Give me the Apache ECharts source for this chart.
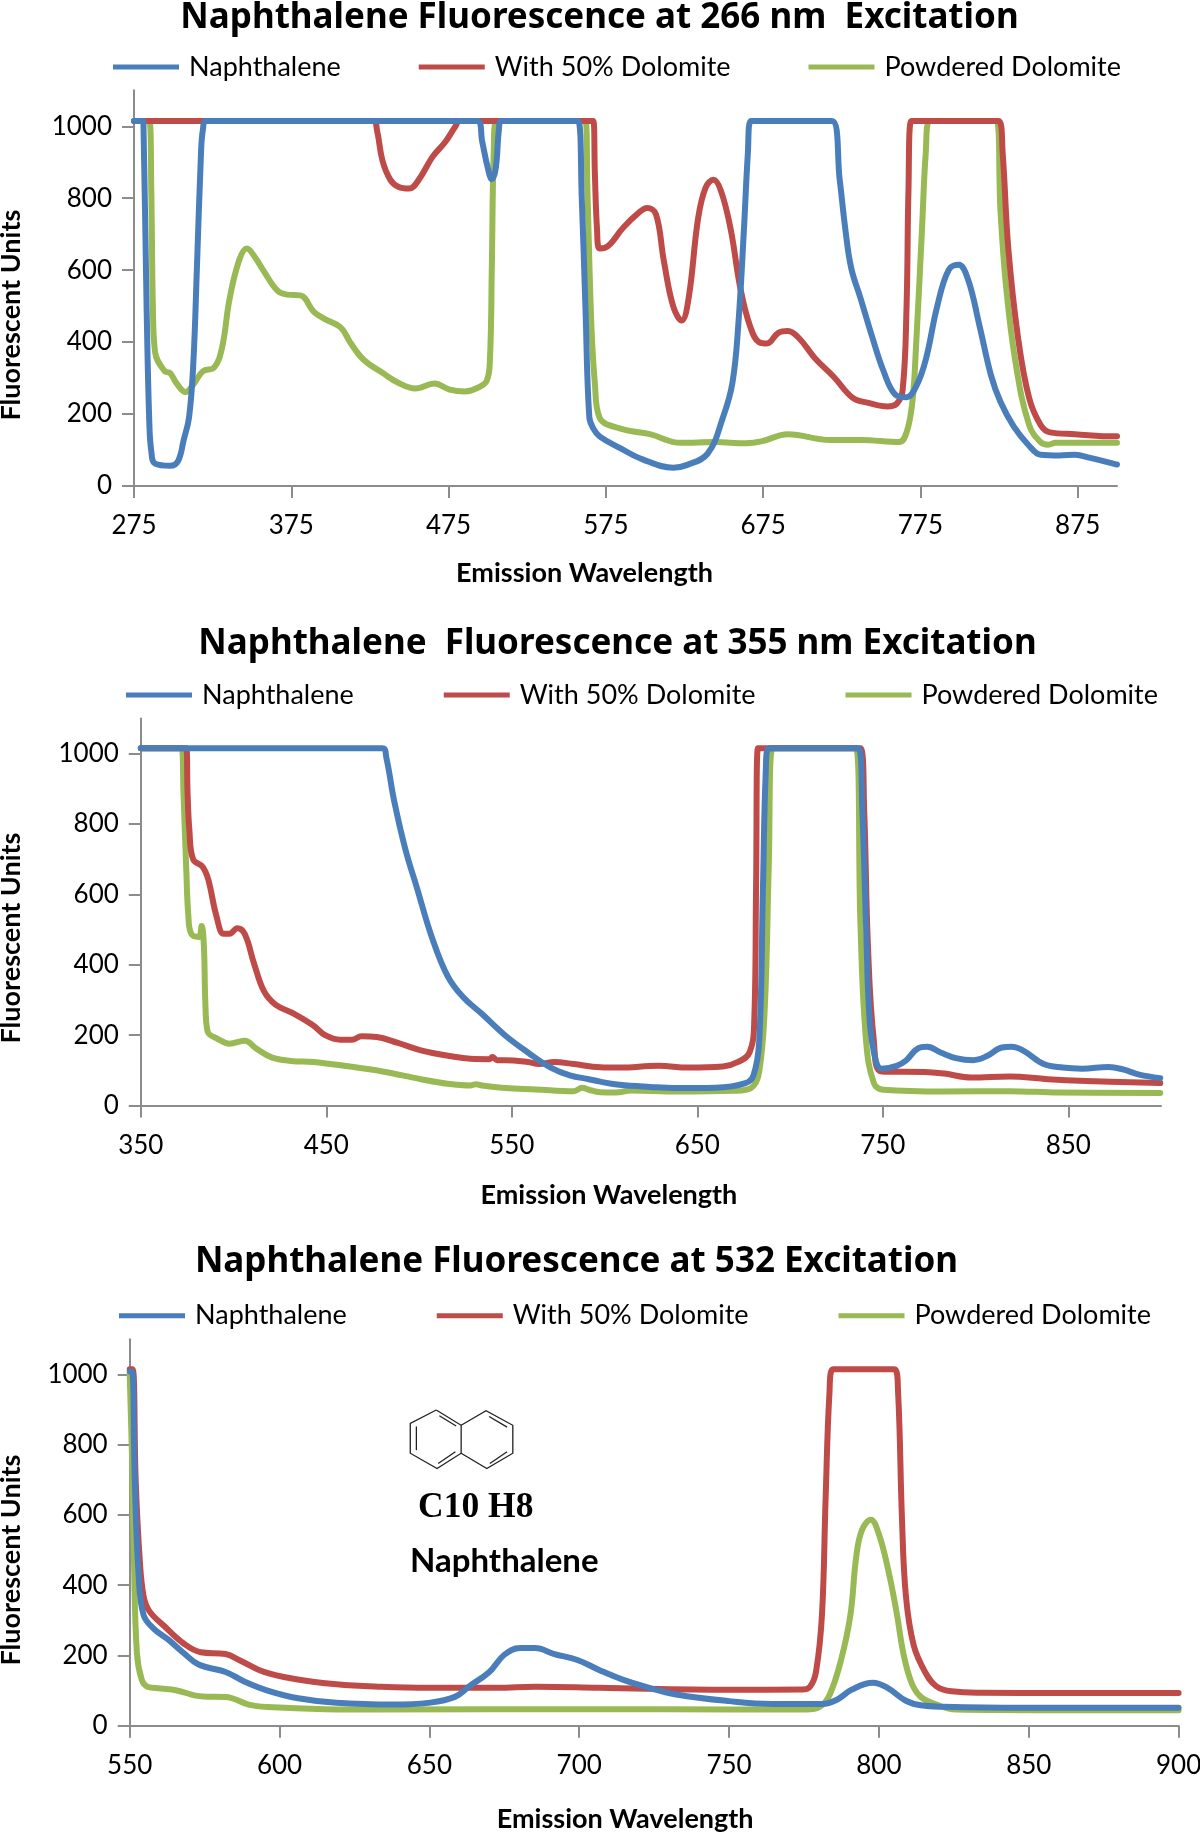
<!DOCTYPE html>
<html><head><meta charset="utf-8">
<style>html,body{margin:0;padding:0;background:#fff}#c{width:1200px;height:1832px}</style>
<script src="https://cdn.jsdelivr.net/npm/echarts@6/dist/echarts.min.js"></script>
</head><body><div id="c"></div>
<script>
const seriesNames = ['Naphthalene', 'With 50% Dolomite', 'Powdered Dolomite'];
const titles = ['Naphthalene Fluorescence at 266 nm  Excitation', 'Naphthalene  Fluorescence at 355 nm Excitation', 'Naphthalene Fluorescence at 532 Excitation'];
const yTicks = [0, 200, 400, 600, 800, 1000];
const xTicks266 = [275, 375, 475, 575, 675, 775, 875];
const xTicks355 = [350, 450, 550, 650, 750, 850];
const xTicks532 = [550, 600, 650, 700, 750, 800, 850, 900];

const naphthalene266 = [[275,1015],[280.4,1015],[281,1010],[283,500],[284.7,181],[286,96],[288.4,62],[298,56],[303,69],[306.6,128],[310,191],[312.7,340],[315,606],[317.6,925],[318.8,990],[321,1015],[493.5,1015],[496.4,957],[500,883],[502.5,853],[505,883],[507,990],[508.6,1015],[557.2,1015],[559.7,798],[562,500],[564.5,191],[567,160],[571,138],[583.8,106],[598.4,74],[617.8,51],[626.3,58],[639.7,90],[649.5,191],[655.5,287],[659.2,447],[662.8,713],[665.3,925],[667.2,1015],[718.8,1015],[723.7,851],[727.3,713],[731,606],[737,521],[744.3,415],[751.6,319],[758.9,255],[766.2,247],[772.3,277],[778.4,351],[785.7,500],[793,601],[799.3,615],[805.3,574],[812.5,447],[819.8,309],[825.9,234],[834.4,165],[844.1,112],[851.4,87],[863.6,85],[873.3,87],[883,78],[898.8,61],[900,60]];
const dolomite50_266 = [[275,1015],[427,1015],[429.5,989],[433,904],[438,851],[443,832],[450,827],[456,851],[464.8,915],[473,957],[479.4,1000],[482,1015],[567,1015],[568,872],[569.4,713],[571,660],[574.5,662],[586,718],[594.7,755],[601.3,773],[606.9,755],[611.8,628],[617.8,500],[623.2,460],[627.6,521],[633.7,745],[638.5,830],[643.4,851],[648.3,819],[654.4,713],[660.4,553],[666.5,447],[672.6,399],[677.4,396],[684.7,426],[690.8,431],[698,410],[707.8,356],[720,303],[732,245],[741.9,231],[754,221],[760,229],[763.7,266],[766.2,500],[767.4,819],[769.2,1015],[824.8,1015],[827.3,926],[830.9,660],[837,415],[844.1,245],[851.4,170],[857.5,149],[873.3,144],[898.8,138],[900,138]];
const powdered266 = [[275,1015],[284.7,1015],[286,819],[287,500],[288.4,372],[294.5,319],[298,314],[301.8,287],[307.8,261],[312.7,282],[318.8,319],[326,330],[330.9,383],[335.8,521],[341.9,628],[346.8,660],[351.6,638],[357.7,596],[366.2,543],[372.3,532],[380.8,530],[389.4,484],[396.7,463],[406.4,441],[412.5,399],[421,351],[433.2,314],[443,287],[454,271],[466,285],[475.7,268],[485.5,263],[494,274],[499.3,293],[501.3,351],[502.5,606],[503.7,926],[505.4,1015],[562,1015],[563.3,819],[565.8,447],[568,287],[571,190],[583.8,160],[603,144],[622.6,120],[644.6,122],[664,119],[673.8,124],[690.8,144],[717.6,128],[737,128],[761.4,122],[766.2,149],[769.9,234],[772.3,394],[776,713],[778.4,926],[780.9,1015],[823.4,1015],[825.9,766],[829.5,553],[835.6,340],[844.1,170],[851.4,122],[856.3,115],[861.1,120],[898.8,120],[900,120]];

const naphthalene355 = [[350,1015],[480.3,1015],[482.4,988],[486.5,868],[492.7,727],[498.9,618],[507,477],[515.4,368],[523.6,309],[534,260],[546.3,200],[558.7,151],[571,108],[581.3,86],[591.6,75],[597.7,68],[608,59],[624.7,53],[639,50],[659.7,51],[676,64],[680.3,86],[683.4,184],[685.4,618],[686.9,945],[688.5,1015],[736.9,1015],[739,836],[741,510],[743,238],[746.2,129],[749.3,105],[757.5,113],[762.7,129],[768.8,162],[774,167],[781.2,151],[789.4,135],[798.7,129],[805.9,140],[814.2,165],[819.3,167],[825.5,157],[836.8,118],[847,108],[857.4,105],[871.8,110],[880,102],[888.3,88],[899.6,78]];
const dolomite50_355 = [[350,1015],[374.5,1015],[375.2,890],[376.2,782],[378.2,700],[383.4,678],[386.5,640],[390.6,542],[394.7,488],[397.8,488],[402,504],[406,488],[411.2,401],[416.4,325],[422.6,287],[432.9,260],[443.2,227],[449.4,200],[457.6,187],[463.8,187],[469,197],[477.2,195],[488.6,178],[501,157],[517.4,140],[527.7,133],[538,132],[539.5,138],[542.2,129],[546.3,129],[558.7,124],[564.9,118],[573,124],[583.4,118],[597.7,109],[608,108],[629,113],[645.3,108],[663.8,111],[672,124],[678.2,151],[680.7,238],[681.7,618],[682.7,1015],[738,1015],[740,836],[742,455],[745.2,184],[749.3,97],[775,95],[783.3,91],[797.7,80],[818.3,83],[838.9,75],[859.5,70],[899.6,64]];
const powdered355 = [[350,1015],[372,1015],[373,890],[374.5,673],[375.6,542],[377.2,488],[381.3,479],[382.8,510],[384,455],[384.8,292],[386,211],[391.6,189],[397.8,176],[406,184],[412.3,162],[420.5,137],[430.8,127],[443.2,124],[459.7,113],[480.3,97],[501,75],[515.4,62],[527.7,57],[530.8,61],[533.9,57],[546.3,50],[562.8,46],[583.4,41],[588,51],[591.6,45],[597.7,38],[606,37],[614.4,43],[639,40],[670,42],[679.2,51],[683.4,97],[686.5,292],[688.5,673],[690.6,1015],[735.5,1015],[738,510],[741,184],[745.2,64],[750.3,45],[783.3,40],[818.3,41],[845,37],[899.6,36]];

const naphthalene532 = [[550,1008],[550.8,1008],[551.7,697],[553,425],[554.6,316],[557.8,278],[562.9,245],[568,207],[573,174],[582,153],[588.4,125],[596,100],[606.2,78],[619,65],[638,60],[649.6,65],[658.5,82],[663.6,114],[670,153],[675,202],[680.2,221],[685.3,221],[691.7,204],[699.4,187],[706.8,158],[714.5,131],[722,111],[732.4,89],[750,70],[764.3,62],[781,62],[786,74],[791,103],[798,122],[802.6,109],[809,71],[814,58],[821.8,54],[847.3,51],[900,51]];
const dolomite50_532 = [[550,1015],[551,1015],[552,697],[553.3,479],[554.6,370],[556.5,327],[561.6,283],[568,234],[573.7,209],[582,204],[587,185],[594.8,153],[605,133],[619,118],[634,111],[649.6,108],[672.6,108],[685.3,111],[706.8,108],[750,102],[774.5,103],[777,111],[779,153],[781,316],[782.2,643],[783.5,948],[784.7,1015],[805.2,1015],[806.4,948],[807.7,588],[809,370],[811.6,229],[815.4,153],[819.2,112],[824.3,98],[834.5,94],[860,93],[900,93]];
const powdered532 = [[550,1000],[550.8,752],[551.4,479],[552.4,207],[554,131],[555.9,111],[560.3,106],[565.4,101],[574.4,83],[582,82],[589.7,60],[596,53],[615.2,47],[634.3,46],[706.8,47],[750,46],[775.8,46],[780.3,54],[783.5,87],[787.3,185],[790.5,316],[792.4,479],[794.3,556],[797.3,586],[800,545],[803.3,436],[805.8,327],[808.4,196],[811,120],[814,82],[819.2,60],[825.6,46],[860,44],[900,44]];

const BLUE = '#4a7ebb', RED = '#be4b48', GREEN = '#98b954', AXIS = '#8c8c8c';
const UI = 'Lato';
const panels = [
  {title: titles[0], tcx: 599.5, tcy: 18, xMin: 275, xMax: 900, xTicks: xTicks266, data: [naphthalene266, dolomite50_266, powdered266],
   grid: {left: 134, top: 90.3, width: 983, height: 395.7}, legendLeft: 113, legendY: 67, gaps: 78, xPad: 82, yPad: 54, xGap: 74},
  {title: titles[1], tcx: 617.5, tcy: 644, xMin: 350, xMax: 900, xTicks: xTicks355, data: [naphthalene355, dolomite50_355, powdered355],
   grid: {left: 140.8, top: 718.4, width: 1020.2, height: 387.2}, legendLeft: 126, legendY: 695, gaps: 90, xPad: 84, yPad: 52, xGap: 76},
  {title: titles[2], tcx: 576.5, tcy: 1262.5, xMin: 550, xMax: 900, xTicks: xTicks532, data: [naphthalene532, dolomite50_532, powdered532],
   grid: {left: 129.7, top: 1339.3, width: 1048.9, height: 386.4}, legendLeft: 119, legendY: 1315.7, gaps: 90, xPad: 58, yPad: 55, xGap: 80}
];
const colors = [BLUE, RED, GREEN];
const option = {
  animation: false, backgroundColor: '#fff',
  title: panels.map(p => ({text: p.title, left: p.tcx, top: p.tcy - 19, textAlign: 'center', padding: 0,
    textStyle: {fontFamily: 'Noto Sans', fontWeight: 'bold', fontSize: 35, color: '#000', lineHeight: 38}})),
  legend: panels.map(p => ({left: p.legendLeft, top: p.legendY - 15, data: seriesNames, icon: 'rect', itemWidth: 66, itemHeight: 5, itemGap: p.gaps, padding: 0,
    textStyle: {fontFamily: UI, fontSize: 27, color: '#000', padding: [0, 0, 0, 5], lineHeight: 30}, selectedMode: false})),
  grid: panels.map(p => Object.assign({containLabel: false, outerBoundsMode: 'none'}, p.grid)),
  xAxis: panels.map((p, i) => ({gridIndex: i, type: 'value', min: p.xMin, max: p.xMax, splitLine: {show: false},
    name: 'Emission Wavelength', nameLocation: 'middle', nameGap: p.xGap,
    nameTextStyle: {fontFamily: UI, fontWeight: 'bold', fontSize: 27, color: '#000', padding: [0, p.xPad, 0, 0]},
    axisLine: {onZero: false, lineStyle: {color: AXIS, width: 2}},
    axisTick: {show: true, length: 12, customValues: p.xTicks, lineStyle: {color: AXIS, width: 2}},
    axisLabel: {margin: 27, customValues: p.xTicks, hideOverlap: false, fontFamily: UI, fontSize: 26, color: '#000', showMinLabel: true, showMaxLabel: true, formatter: v => String(v)}})),
  yAxis: panels.map((p, i) => ({gridIndex: i, type: 'value', min: 0, max: 1100, splitLine: {show: false},
    name: 'Fluorescent Units', nameLocation: 'middle', nameGap: 109 + (p.grid.left - 134),
    nameTextStyle: {fontFamily: UI, fontWeight: 'bold', fontSize: 27, color: '#000', padding: [0, p.yPad, 0, 0]},
    axisLine: {show: true, lineStyle: {color: AXIS, width: 2}},
    axisTick: {show: true, length: 12, customValues: yTicks, lineStyle: {color: AXIS, width: 2}},
    axisLabel: {margin: 22, padding: [2, 0, 0, 0], customValues: yTicks, hideOverlap: false, fontFamily: UI, fontSize: 26, color: '#000', formatter: v => String(v)}})),
  series: panels.flatMap((p, i) => p.data.map((d, s) => ({name: seriesNames[s], type: 'line', xAxisIndex: i, yAxisIndex: i, data: d,
    showSymbol: false, symbol: 'none', smooth: 0.4, clip: false, z: 5 - s,
    lineStyle: {color: colors[s], width: 6, cap: 'round', join: 'round'}, itemStyle: {color: colors[s]}}))),
  graphic: (function () {
    const k = 1 / 2.613, ox = 0, oy = 1232;
    const P = (x, y) => [ox + x * k, oy + y * k];
    const rings = [
      [[1140,465],[1205,505],[1205,578],[1142,618],[1072,578],[1072,500],[1140,465]],
      [[1205,505],[1270,467],[1340,505],[1340,578],[1272,618],[1205,578]],
      [[1148,480],[1192,507]], [[1088,508],[1088,570]], [[1145,605],[1190,574]],
      [[1278,482],[1325,510]], [[1280,605],[1325,574]]
    ];
    const els = rings.map(r => ({type: 'polyline', silent: true, shape: {points: r.map(q => P(q[0], q[1]))}, style: {stroke: '#222', lineWidth: 1.3, fill: null}}));
    els.push({type: 'text', left: 418, top: 1490, silent: true, style: {text: 'C10 H8', fill: '#000', font: 'bold 35.5px "Liberation Serif"'}});
    els.push({type: 'text', left: 410, top: 1545, silent: true, style: {text: 'Naphthalene', fill: '#000', font: 'bold 33px Lato'}});
    return els;
  })()
};
const chart = echarts.init(document.getElementById('c'), null, {renderer: 'canvas'});
chart.setOption(option);
</script></body></html>
